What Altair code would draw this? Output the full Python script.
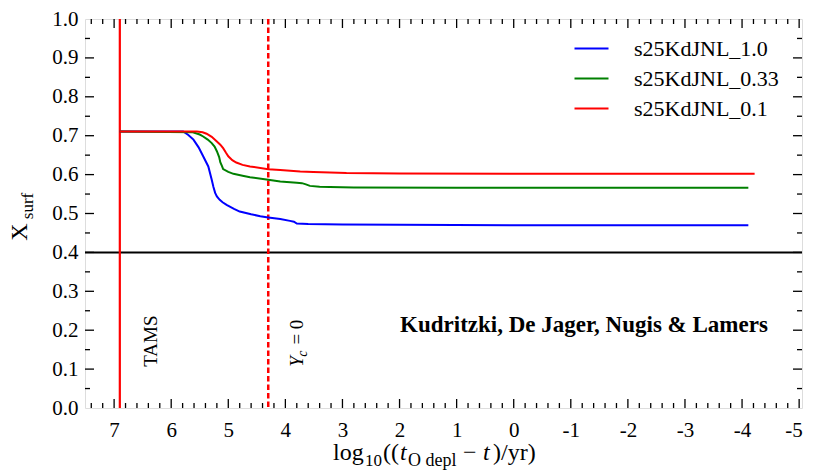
import altair as alt
import pandas as pd

# ---- data ----
blue_x = [6.90, 5.79, 5.70, 5.61, 5.52, 5.44, 5.35, 5.29, 5.26, 5.23, 5.20, 5.15, 5.10, 5.03, 4.90, 4.80,
          4.60, 4.44, 4.30, 4.09, 3.92, 3.85, 3.80, 3.60, 3.00, 2.00, 0.00, -2.00, -4.11]
blue_y = [0.711, 0.711, 0.702, 0.690, 0.670, 0.647, 0.621, 0.587, 0.568, 0.553, 0.544, 0.535, 0.529, 0.522, 0.512, 0.505,
          0.498, 0.493, 0.490, 0.486, 0.481, 0.479, 0.474, 0.473, 0.472, 0.471, 0.470, 0.470, 0.470]

green_x = [6.90, 5.62, 5.50, 5.44, 5.36, 5.29, 5.24, 5.20, 5.16, 5.14, 5.11, 5.09, 5.00, 4.91, 4.75,
           4.62, 4.30, 4.09, 3.80, 3.71, 3.64, 3.57, 3.40, 3.22, 2.80, 1.00, -4.11]
green_y = [0.711, 0.709, 0.703, 0.698, 0.690, 0.681, 0.672, 0.660, 0.645, 0.632, 0.622, 0.614, 0.607, 0.602, 0.597,
           0.593, 0.587, 0.582, 0.579, 0.578, 0.575, 0.571, 0.569, 0.568, 0.567, 0.566, 0.566]

red_x = [6.90, 5.55, 5.45, 5.38, 5.29, 5.20, 5.14, 5.09, 5.04, 5.00, 4.93, 4.86, 4.75, 4.62, 4.30,
         4.09, 3.74, 3.51, 2.93, 2.00, 0.00, -4.22]
red_y = [0.711, 0.711, 0.709, 0.705, 0.697, 0.685, 0.677, 0.668, 0.656, 0.647, 0.637, 0.631, 0.625, 0.621, 0.614,
         0.612, 0.608, 0.607, 0.604, 0.603, 0.602, 0.602]

series_names = ["s25KdJNL_1.0", "s25KdJNL_0.33", "s25KdJNL_0.1"]
series_colors = ["#0000ff", "#008000", "#ff0000"]

tams_x = [6.90]
yc0_x = [4.30]
hline_y = [0.4]

x_major = [7, 6, 5, 4, 3, 2, 1, 0, -1, -2, -3, -4, -5]
y_major = [0.0, 0.1, 0.2, 0.3, 0.4, 0.5, 0.6, 0.7, 0.8, 0.9, 1.0]
x_minor = [round(7.4 - 0.2 * i, 1) for i in range(63) if abs(round(7.4 - 0.2 * i, 1) - round(7.4 - 0.2 * i)) > 1e-6]
y_minor = [round(0.05 + 0.1 * i, 2) for i in range(10)]
x_tick_inner = [v for v in x_major if -5.05 <= v <= 7.51]
y_tick_inner = [0.1, 0.2, 0.3, 0.4, 0.5, 0.6, 0.7, 0.8, 0.9]

W, H = 717, 389
FONT = "Liberation Serif"

rows = []
for name, xs, ys in zip(series_names, [blue_x, green_x, red_x], [blue_y, green_y, red_y]):
    for i, (a, b) in enumerate(zip(xs, ys)):
        rows.append({"model": name, "x": a, "y": b, "i": i})
df = pd.DataFrame(rows)

xscale = alt.Scale(domain=[-5.05, 7.51], reverse=True, zero=False, nice=False)
yscale = alt.Scale(domain=[0, 1], zero=False, nice=False)

xaxis = alt.Axis(values=x_major, labelExpr="'' + datum.value", ticks=False, domain=False, grid=False,
                 labelFontSize=21, labelPadding=11, labelColor="black", title=None, labelFont=FONT,
                 labelFlush=5, labelFlushOffset=3)
yaxis = alt.Axis(values=y_major, format=".1f", ticks=False, domain=False, grid=False,
                 labelFontSize=21, labelPadding=7, labelColor="black", title=None, labelFont=FONT)

def X(field):
    return alt.X(field, scale=xscale, axis=xaxis)

def Y(field):
    return alt.Y(field, scale=yscale, axis=yaxis)

lines = alt.Chart(df).mark_line(strokeWidth=2, clip=True).encode(
    x=X("x:Q"),
    y=Y("y:Q"),
    color=alt.Color("model:N", scale=alt.Scale(domain=series_names, range=series_colors),
                    legend=alt.Legend(title=None, orient="none", legendX=488, legendY=11,
                                      symbolType="stroke", symbolSize=1156, symbolStrokeWidth=2.2,
                                      labelFontSize=22, labelFont=FONT, labelColor="black",
                                      labelOffset=24, padding=0, rowPadding=0)),
    order="i:Q",
)

hline = alt.Chart(pd.DataFrame({"y": hline_y})).mark_rule(color="black", strokeWidth=2).encode(y=Y("y:Q"))
tams = alt.Chart(pd.DataFrame({"x": tams_x})).mark_rule(color="#ff0000", strokeWidth=2.2).encode(x=X("x:Q"))
yc0 = alt.Chart(pd.DataFrame({"x": yc0_x})).mark_rule(color="#ff0000", strokeWidth=2.5, strokeDash=[5.5, 3]).encode(
    x=X("x:Q"))

# inward ticks on all four sides
def xticks(vals, length):
    d = pd.DataFrame({"v": vals})
    bot = alt.Chart(d).mark_rule(color="black", strokeWidth=1.3).encode(
        x=X("v:Q"), y=alt.value(H), y2=alt.value(H - length))
    top = alt.Chart(d).mark_rule(color="black", strokeWidth=1.3).encode(
        x=X("v:Q"), y=alt.value(0), y2=alt.value(length))
    return [bot, top]

def yticks(vals, length):
    d = pd.DataFrame({"v": vals})
    left = alt.Chart(d).mark_rule(color="black", strokeWidth=1.3).encode(
        y=Y("v:Q"), x=alt.value(0), x2=alt.value(length))
    right = alt.Chart(d).mark_rule(color="black", strokeWidth=1.3).encode(
        y=Y("v:Q"), x=alt.value(W), x2=alt.value(W - length))
    return [left, right]

ticks = xticks(x_tick_inner, 9) + xticks(x_minor, 5) + yticks(y_tick_inner, 9) + yticks(y_minor, 5)

# annotations in data coordinates
def dtext(x, y, text, size, angle=0, italic=False, bold=False, align="left", baseline="alphabetic"):
    return alt.Chart(pd.DataFrame({"x": [x], "y": [y], "t": [text]})).mark_text(
        font=FONT, fontSize=size, angle=angle, align=align, baseline=baseline, color="black",
        fontStyle="italic" if italic else "normal", fontWeight="bold" if bold else "normal",
    ).encode(x=X("x:Q"), y=Y("y:Q"), text="t:N")

ann = [
    dtext(6.249, 0.106, "TAMS", 19, angle=270),
    dtext(3.692, 0.106, "Y", 19, angle=270, italic=True),
    dtext(3.622, 0.132, "c", 14, angle=270, italic=True),
    dtext(3.692, 0.163, "= 0", 19, angle=270),
    dtext(1.99, 0.196, "Kudritzki, De Jager, Nugis & Lamers", 23, bold=True),
]

# axis titles built from pieces (pixel positions relative to plot area)
def ptext(x, y, text, size, angle=0, italic=False, align="left"):
    return alt.Chart(pd.DataFrame({"t": [text]})).mark_text(
        font=FONT, fontSize=size, angle=angle, align=align, baseline="alphabetic", color="black",
        fontStyle="italic" if italic else "normal",
    ).encode(x=alt.value(x), y=alt.value(y), text="t:N")

titles = [
    ptext(248, 441, "log", 24),
    ptext(280, 447, "10", 17),
    ptext(298, 441, "((", 24),
    ptext(315, 441, "t", 24, italic=True),
    ptext(323, 447, "O depl", 18),
    ptext(378, 441, "\u2212", 24),
    ptext(398, 441, "t", 24, italic=True),
    ptext(408, 441, ")/yr)", 24),
    ptext(-58, 213, "X", 24, angle=270, align="center"),
    ptext(-52, 187, "surf", 17, angle=270, align="center"),
]

chart = alt.layer(hline, *ticks, tams, yc0, lines, *ann, *titles).properties(
    width=W, height=H,
    autosize=alt.AutoSizeParams(type="none"),
    padding={"left": 77, "top": 11, "right": 3, "bottom": 62},
).configure_view(stroke="black", strokeWidth=1.6).configure(font=FONT).configure_legend(
    labelFont=FONT).configure_axis(labelFont=FONT)

chart.save("out.html", embed_options={"renderer": "svg", "actions": False})
